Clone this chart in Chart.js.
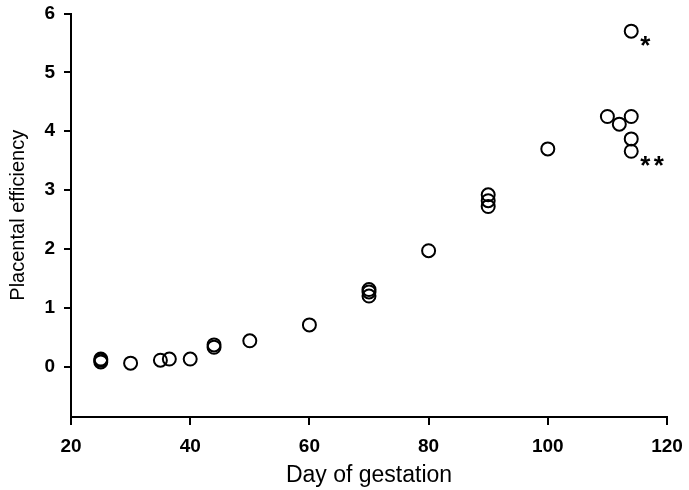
<!DOCTYPE html>
<html>
<head>
<meta charset="utf-8">
<script src="https://cdn.jsdelivr.net/npm/chart.js@4.4.1/dist/chart.umd.min.js"></script>
<style>
  html, body { margin: 0; padding: 0; background: #fff; }
  #wrap { width: 689px; height: 490px; }
</style>
</head>
<body>
<div id="wrap"><canvas id="c" width="689" height="490"></canvas></div>
<script>
// Day of gestation (x) and placental efficiency (y)
const days = [25, 25, 25, 30, 35, 36.5, 40, 44, 44, 50, 60, 70, 70, 70, 80, 90, 90, 90, 100, 110, 112, 114, 114, 114, 114];
const efficiency = [0.08, 0.11, 0.13, 0.06, 0.11, 0.13, 0.13, 0.33, 0.37, 0.44, 0.71, 1.20, 1.27, 1.31, 1.97, 2.72, 2.82, 2.92, 3.70, 4.25, 4.12, 4.25, 3.87, 3.66, 5.70];
const xTicks = [20, 40, 60, 80, 100, 120];
const yTicks = [0, 1, 2, 3, 4, 5, 6];
const noteX = [114, 114];
const noteY = [5.70, 3.66];
const noteText = ['*', '**'];

const pts = days.map((d, i) => ({ x: d, y: efficiency[i] }));

const notesPlugin = {
  id: 'notes',
  afterDatasetsDraw(chart) {
    const ctx = chart.ctx;
    const xs = chart.scales.x, ys = chart.scales.y;
    const size = 26;
    ctx.save();
    ctx.fillStyle = '#000';
    ctx.font = 'bold ' + size + 'px "Liberation Sans", Arial, sans-serif';
    ctx.textAlign = 'center';
    ctx.textBaseline = 'alphabetic';
    noteText.forEach((t, i) => {
      const cx = xs.getPixelForValue(noteX[i]) + 14;
      const cy = ys.getPixelForValue(noteY[i]) + 12 + size * 0.4;
      for (let k = 0; k < t.length; k++) {
        ctx.fillText(t[k], cx + k * 13.5, cy);
      }
    });
    ctx.restore();
  }
};

const tickFont = { family: '"Liberation Sans", Arial, sans-serif', size: 19, weight: 'bold' };

new Chart(document.getElementById('c'), {
  type: 'scatter',
  data: {
    datasets: [{
      data: pts,
      pointRadius: 6.5,
      pointHoverRadius: 6.5,
      pointBorderWidth: 2,
      pointBorderColor: '#000',
      pointBackgroundColor: 'rgba(255,255,255,0)',
      showLine: false
    }]
  },
  options: {
    responsive: false,
    animation: false,
    layout: { padding: { left: 0, right: 22, top: 13.5, bottom: 0 } },
    plugins: { legend: { display: false }, tooltip: { enabled: false } },
    scales: {
      x: {
        type: 'linear',
        min: 20, max: 120,
        afterBuildTicks: s => { s.ticks = xTicks.map(v => ({ value: v })); },
        afterFit: s => { s.height = 73; s.paddingRight = 0; s.paddingLeft = 0; },
        border: { display: true, color: '#000', width: 2 },
        grid: { display: true, drawOnChartArea: false, drawTicks: true, tickLength: 8, color: '#000', lineWidth: 2 },
        ticks: { color: '#000', font: tickFont, padding: 10, maxRotation: 0 },
        title: { display: true, text: 'Day of gestation', color: '#000', font: { family: '"Liberation Sans", Arial, sans-serif', size: 23 }, padding: { top: 0, bottom: 1 } }
      },
      y: {
        type: 'linear',
        min: -0.855, max: 6,
        afterBuildTicks: s => { s.ticks = yTicks.map(v => ({ value: v })); },
        afterFit: s => { s.width = 71; s.paddingTop = 0; s.paddingBottom = 0; },
        border: { display: true, color: '#000', width: 2 },
        grid: { display: true, drawOnChartArea: false, drawTicks: true, tickLength: 7, color: '#000', lineWidth: 2 },
        ticks: { color: '#000', font: tickFont, padding: 9 },
        title: { display: true, text: 'Placental efficiency', color: '#000', font: { family: '"Liberation Sans", Arial, sans-serif', size: 20 }, padding: { top: 6, bottom: 0 } }
      }
    }
  },
  plugins: [notesPlugin]
});
</script>
</body>
</html>
